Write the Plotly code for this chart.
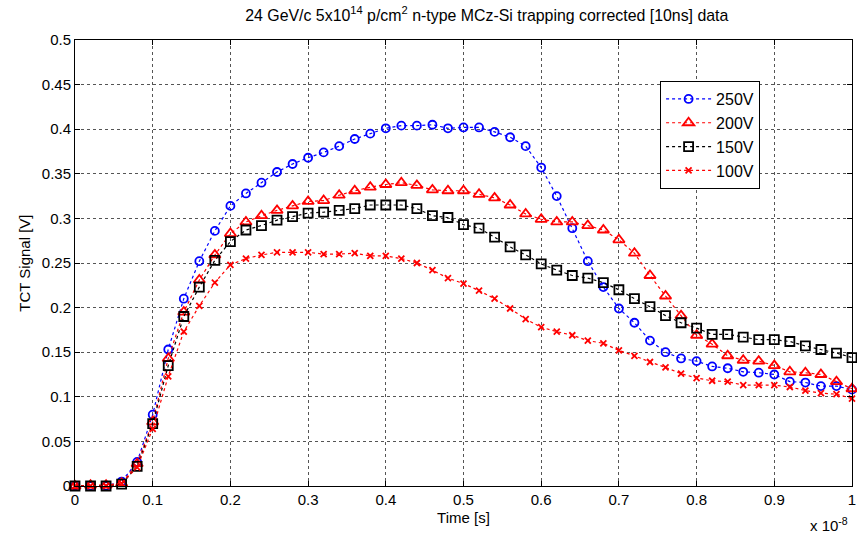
import plotly.graph_objects as go

# Time in units of 1e-8 s
time = [round(i * 0.02, 2) for i in range(51)]

v250 = [0, 0, 0, 0.005, 0.027, 0.080, 0.153, 0.210, 0.252, 0.286,
        0.314, 0.328, 0.340, 0.352, 0.361, 0.368, 0.374, 0.381, 0.389, 0.395,
        0.401, 0.404, 0.404, 0.405, 0.401, 0.402, 0.402, 0.397, 0.391, 0.381,
        0.357, 0.325, 0.289, 0.252, 0.223, 0.199, 0.183, 0.163, 0.150, 0.143,
        0.140, 0.134, 0.132, 0.128, 0.127, 0.125, 0.117, 0.116, 0.112, 0.112,
        0.108]
v200 = [0, 0.001, 0.001, 0.003, 0.025, 0.072, 0.143, 0.195, 0.231, 0.259,
        0.283, 0.296, 0.303, 0.309, 0.314, 0.319, 0.320, 0.326, 0.331, 0.335,
        0.338, 0.340, 0.337, 0.332, 0.331, 0.331, 0.327, 0.323, 0.315, 0.305,
        0.299, 0.296, 0.296, 0.292, 0.287, 0.276, 0.261, 0.236, 0.213, 0.191,
        0.169, 0.159, 0.146, 0.141, 0.140, 0.135, 0.128, 0.127, 0.125, 0.117,
        0.109]
v150 = [0, 0, 0, 0.002, 0.022, 0.070, 0.135, 0.190, 0.223, 0.253,
        0.274, 0.287, 0.292, 0.298, 0.302, 0.306, 0.307, 0.309, 0.311, 0.315,
        0.315, 0.315, 0.311, 0.303, 0.301, 0.293, 0.289, 0.279, 0.268, 0.259,
        0.249, 0.242, 0.236, 0.233, 0.228, 0.220, 0.210, 0.201, 0.191, 0.183,
        0.177, 0.170, 0.170, 0.167, 0.164, 0.164, 0.162, 0.157, 0.153, 0.149,
        0.144]
v100 = [0, 0, 0, 0.003, 0.021, 0.064, 0.123, 0.173, 0.202, 0.228,
        0.248, 0.255, 0.259, 0.262, 0.262, 0.262, 0.260, 0.260, 0.261, 0.258,
        0.258, 0.255, 0.250, 0.242, 0.233, 0.227, 0.219, 0.210, 0.199, 0.187,
        0.178, 0.173, 0.169, 0.163, 0.160, 0.152, 0.146, 0.139, 0.133, 0.126,
        0.121, 0.118, 0.117, 0.113, 0.113, 0.113, 0.111, 0.107, 0.104, 0.103,
        0.098]

series = [
    ("250V", v250, "#0000ff", "circle-open", 8),
    ("200V", v200, "#ff0000", "triangle-up-open", 10),
    ("150V", v150, "#000000", "square-open", 9),
    ("100V", v100, "#ff0000", "x-thin-open", 6),
]

FONT = "Liberation Sans, Arial, sans-serif"

fig = go.Figure()
for name, vals, col, sym, sz in series:
    fig.add_trace(go.Scatter(
        x=time, y=vals, name=name, mode="lines+markers",
        line=dict(color=col, width=1.2, dash="dot"),
        marker=dict(symbol=sym, size=sz, color=col,
                    line=dict(color=col, width=1.8)),
        cliponaxis=False,
    ))

axis_common = dict(
    showline=True, linecolor="#000000", linewidth=1, mirror="ticks",
    ticks="inside", ticklen=5, tickcolor="#000000",
    showgrid=True, gridcolor="#555555", griddash="dot", gridwidth=1,
    zeroline=False, tickfont=dict(family=FONT, size=15, color="#000000"),
    ticklabeloverflow="allow",
)

fig.update_xaxes(range=[0, 1], tickvals=[i / 10 for i in range(11)],
                 ticktext=["0", "0.1", "0.2", "0.3", "0.4", "0.5", "0.6", "0.7", "0.8", "0.9", "1"],
                 title=dict(text="Time [s]", font=dict(family=FONT, size=15, color="#000000"), standoff=5),
                 **axis_common)
fig.update_yaxes(range=[0, 0.5], tickvals=[i * 0.05 for i in range(11)],
                 ticktext=["0", "0.05", "0.1", "0.15", "0.2", "0.25", "0.3", "0.35", "0.4", "0.45", "0.5"],
                 **axis_common)

fig.update_layout(
    width=857, height=536,
    margin=dict(l=75, r=1, t=40, b=50),
    paper_bgcolor="white", plot_bgcolor="white",
    font=dict(family=FONT, color="#000000"),
    title=dict(text="24 GeV/c 5x10<sup>14</sup> p/cm<sup>2</sup> n-type MCz-Si trapping corrected [10ns] data",
               x=0.568, xanchor="center", y=0.972, yanchor="middle",
               font=dict(family=FONT, size=15.9, color="#000000")),
    legend=dict(x=0.753, y=0.908, xanchor="left", yanchor="top",
                bgcolor="white", bordercolor="#000000", borderwidth=1,
                font=dict(family=FONT, size=16, color="#000000"),
                tracegroupgap=0, itemwidth=45),
    showlegend=True,
    annotations=[
        dict(text="x 10<sup>-8</sup>", xref="paper", yref="paper",
             x=0.997, y=-0.06, xanchor="right", yanchor="top", showarrow=False,
             font=dict(family=FONT, size=15, color="#000000")),
        dict(text="TCT Signal [V]", xref="paper", yref="paper",
             x=-0.066, y=0.5, xanchor="center", yanchor="middle", textangle=-90,
             showarrow=False, font=dict(family=FONT, size=15, color="#000000")),
    ],
)

fig.write_html("out.html")
